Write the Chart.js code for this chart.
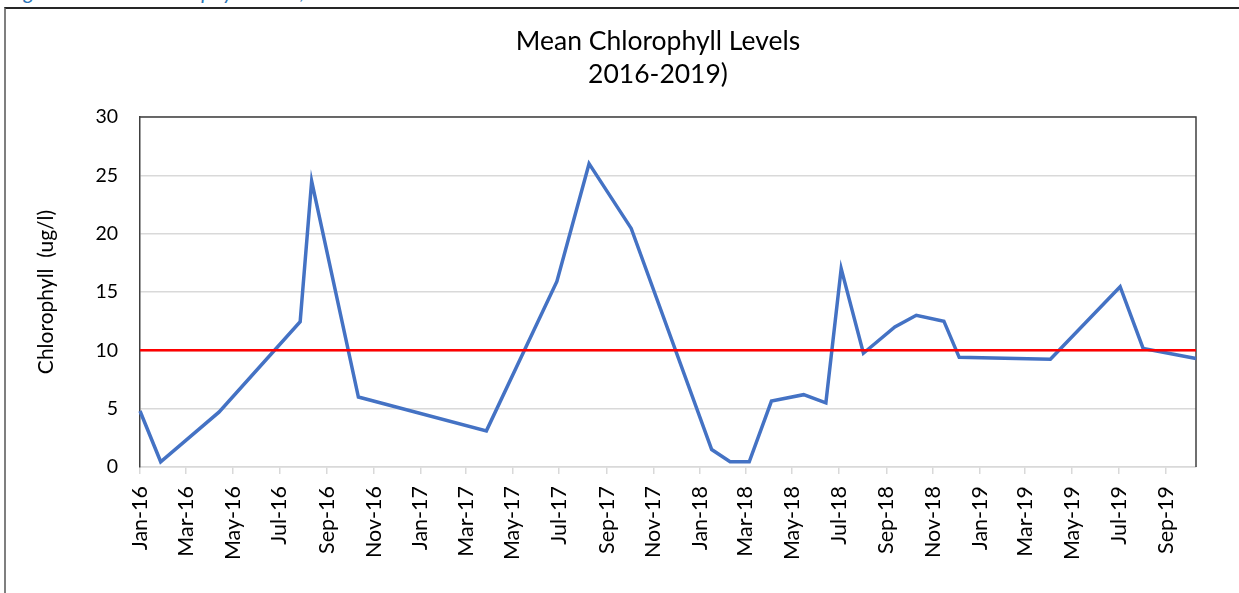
<!DOCTYPE html>
<html>
<head>
<meta charset="utf-8">
<title>Mean Chlorophyll Levels</title>
<script src="https://cdn.jsdelivr.net/npm/chart.js@4.4.1/dist/chart.umd.min.js"></script>
<style>
    html, body { margin: 0; padding: 0; background: #fff; overflow: hidden; }
    #caption { position: absolute; left: 8px; top: -21px; font: italic 21px Lato, sans-serif; color: #2e75b6; white-space: nowrap; line-height: 24px; }
    #frame { position: absolute; left: 4px; top: 7px; width: 1300px; height: 700px; border-left: 2px solid #7f7f7f; border-top: 2px solid #262626; }
    #chart { position: absolute; left: 0; top: 0; }
</style>
</head>
<body>
<div id="caption">Figure 2: Mean Chlorophyll Levels, 2016-2019</div>
<div id="frame"></div>
<canvas id="chart" width="1239" height="593"></canvas>
<script>
// sample dates and mean chlorophyll (ug/l)
const sampleDates = [
    '2016-01-01', '2016-01-28', '2016-04-13', '2016-07-28', '2016-08-12', '2016-10-12',
    '2017-03-28', '2017-06-28', '2017-08-09', '2017-10-03',
    '2018-01-16', '2018-02-09', '2018-03-06', '2018-04-04', '2018-05-16', '2018-06-14',
    '2018-07-04', '2018-08-02', '2018-09-12', '2018-10-10', '2018-11-15', '2018-12-05',
    '2019-04-03', '2019-07-03', '2019-08-02', '2019-10-10'
];
const chlorophyll = [
    4.8, 0.45, 4.7, 12.45, 24.5, 6.0,
    3.1, 15.9, 26.0, 20.45,
    1.5, 0.45, 0.45, 5.65, 6.2, 5.5,
    17.0, 9.75, 12.0, 13.0, 12.5, 9.4,
    9.23, 15.45, 10.17, 9.3
];
const thresholdValue = 10;
const yTicks = [0, 5, 10, 15, 20, 25, 30];
const tickDates = [
    '2016-01-01', '2016-03-01', '2016-05-01', '2016-07-01', '2016-09-01', '2016-11-01',
    '2017-01-01', '2017-03-01', '2017-05-01', '2017-07-01', '2017-09-01', '2017-11-01',
    '2018-01-01', '2018-03-01', '2018-05-01', '2018-07-01', '2018-09-01', '2018-11-01',
    '2019-01-01', '2019-03-01', '2019-05-01', '2019-07-01', '2019-09-01'
];
const titleLines = ['Mean Chlorophyll Levels', '2016-2019)'];
const yTitle = 'Chlorophyll  (ug/l)';

const monthNames = ['Jan', 'Feb', 'Mar', 'Apr', 'May', 'Jun', 'Jul', 'Aug', 'Sep', 'Oct', 'Nov', 'Dec'];
const startMs = Date.parse(sampleDates[0]);
const dayOf = s => (Date.parse(s) - startMs) / 86400000;
const fmtDate = s => {
    const d = new Date(Date.parse(s));
    return monthNames[d.getUTCMonth()] + '-' + String(d.getUTCFullYear()).slice(2);
};

const FONT = 'Lato, "Noto Sans", sans-serif';

// dark border on top and right of the plot area, like the y axis line
const plotFrame = {
    id: 'plotFrame',
    beforeDatasetsDraw(chart) {
        const { ctx, chartArea: a } = chart;
        ctx.save();
        ctx.strokeStyle = '#404040';
        ctx.lineWidth = 1.5;
        ctx.beginPath();
        ctx.moveTo(a.left, a.top);
        ctx.lineTo(a.right, a.top);
        ctx.lineTo(a.right, a.bottom);
        ctx.stroke();
        ctx.restore();
    }
};

const chartTitle = {
    id: 'chartTitle',
    afterDraw(chart) {
        const { ctx } = chart;
        ctx.save();
        ctx.fillStyle = '#000';
        ctx.font = '26.5px ' + FONT;
        ctx.textAlign = 'center';
        ctx.textBaseline = 'alphabetic';
        titleLines.forEach((t, i) => ctx.fillText(t, 658, 50 + i * 32.5));
        ctx.restore();
    }
};

const xMax = dayOf(sampleDates[sampleDates.length - 1]);

new Chart(document.getElementById('chart'), {
    type: 'line',
    data: {
        datasets: [
            {
                label: 'Mean chlorophyll',
                data: sampleDates.map((d, i) => ({ x: dayOf(d), y: chlorophyll[i] })),
                borderColor: '#4472C4',
                borderWidth: 3.5,
                pointRadius: 0,
                tension: 0,
                clip: 6,
                order: 2
            },
            {
                label: 'Threshold',
                data: [{ x: 0, y: thresholdValue }, { x: xMax, y: thresholdValue }],
                borderColor: '#FF0000',
                borderWidth: 2.5,
                pointRadius: 0,
                order: 1
            }
        ]
    },
    options: {
        responsive: false,
        animation: false,
        devicePixelRatio: 1,
        layout: { padding: { left: 10, right: 43, top: 117, bottom: 0 } },
        plugins: {
            legend: { display: false },
            title: { display: false },
            tooltip: { enabled: false }
        },
        scales: {
            x: {
                type: 'linear',
                min: 0,
                max: xMax,
                afterBuildTicks: s => { s.ticks = tickDates.map(d => ({ value: dayOf(d) })); },
                afterFit: s => { s.height = 126; },
                ticks: {
                    autoSkip: false,
                    minRotation: 90,
                    maxRotation: 90,
                    padding: 12,
                    color: '#000',
                    font: { family: FONT, size: 21.5 },
                    callback: (v, i) => fmtDate(tickDates[i])
                },
                grid: { drawOnChartArea: false, drawTicks: true, tickLength: 7, color: '#d9d9d9', lineWidth: 1.5 },
                border: { color: '#d9d9d9', width: 1.5 }
            },
            y: {
                min: 0,
                max: 30,
                afterBuildTicks: s => { s.ticks = yTicks.map(v => ({ value: v })); },
                afterFit: s => { s.width = 130; },
                ticks: { padding: 22, color: '#000', font: { family: FONT, size: 19.5 } },
                grid: { color: '#d9d9d9', lineWidth: 1.5, drawTicks: false },
                border: { color: '#404040', width: 1.5 },
                title: {
                    display: true,
                    text: yTitle,
                    color: '#000',
                    font: { family: FONT, size: 21 },
                    padding: { top: 24, bottom: 0 }
                }
            }
        }
    },
    plugins: [plotFrame, chartTitle]
});
</script>
</body>
</html>
